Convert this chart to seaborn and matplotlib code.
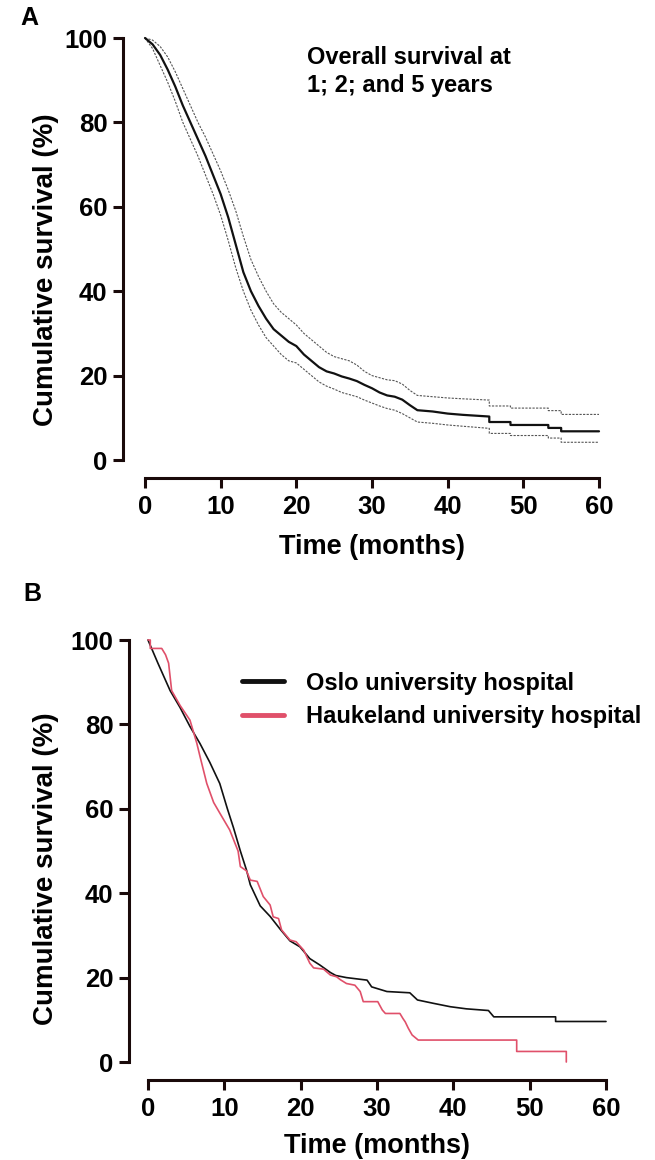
#!/usr/bin/env python3
"""Kaplan-Meier style survival curves, overall (A) and by hospital (B)."""

import pandas as pd
import matplotlib.pyplot as plt
import seaborn as sns

# Panel A: overall survival with 95% CI (months, %)
time_a = [0, 1, 2, 3, 4, 5, 6, 7, 8, 9, 10, 11, 12, 13, 14, 15, 16, 17, 18, 19,
          20, 21, 22, 23, 24, 25, 26, 27, 28, 29, 30, 31, 32, 33, 34, 35, 36,
          38, 40, 42, 45.5, 45.5, 48.3, 48.3, 53.3, 53.3, 55, 55, 60]
surv_a = [100, 98.5, 96, 92.5, 88.5, 84, 80, 76, 72, 67.5, 63, 57.5, 51, 44.5,
          40, 36.5, 33.5, 31, 29.5, 28, 27, 25, 23.5, 22, 21, 20.5, 19.8, 19.3,
          18.7, 17.8, 17, 16, 15.3, 15, 14.3, 13, 11.8, 11.5, 11, 10.7, 10.3,
          9, 9, 8.3, 8.3, 7.6, 7.6, 6.8, 6.8]
upper_a = [100, 99.5, 98, 95.5, 92, 88, 84, 80, 76.5, 72.5, 68.5, 64, 59, 53,
           47.5, 43.5, 40, 37, 35, 33.5, 32, 30, 28.5, 27, 25.5, 24.5, 24, 23.5,
           22.5, 21, 20, 19.5, 19, 18.8, 18, 16.5, 15.3, 15, 14.7, 14.5, 14.2,
           12.8, 12.8, 12.3, 12.3, 11.7, 11.7, 10.8, 10.8]
lower_a = [100, 97.5, 93.5, 89.5, 85, 80, 76, 72, 67.5, 63, 58, 52, 45.5, 40,
           35.5, 32, 29, 27, 25, 23.5, 23, 21.5, 20, 18.5, 17.5, 16.8, 16, 15.5,
           15, 14.2, 13.5, 12.8, 12.2, 11.8, 11, 10, 9, 8.7, 8.3, 8, 7.5, 6.3,
           6.3, 5.8, 5.8, 5.2, 5.2, 4.2, 4.2]

# Panel B: survival by hospital
hospitals = ['Oslo university hospital', 'Haukeland university hospital']
time_oslo = [0, 1.3, 2.9, 4.2, 5.5, 6.8, 8.1, 9.4, 10.4, 11.2, 12.1, 12.9, 13.4,
             14.7, 16, 17.3, 18.6, 19.9, 21.2, 22.5, 23.9, 24.6, 26, 28.7, 29.3,
             31.3, 34.3, 35.3, 37.4, 39.6, 41.7, 44.6, 45.3, 53.4, 53.4, 60]
surv_oslo = [100, 94.5, 88, 84, 79.5, 75.5, 71, 66, 60, 55.5, 50, 45.5, 42, 37,
             34.5, 31.5, 28.7, 27.3, 24.5, 23, 21.2, 20.5, 20, 19.4, 17.8, 16.7,
             16.4, 14.7, 13.9, 13.1, 12.6, 12.2, 10.7, 10.7, 9.6, 9.6]
time_hauk = [0, 0.3, 0.3, 1.8, 2.3, 2.7, 3.1, 4.2, 5.5, 6.4, 6.8, 7.7, 8.6, 9.4,
             10.7, 11.8, 12.1, 12.9, 13.4, 14.3, 15.1, 16, 16.4, 17.1, 17.5,
             18.6, 19.4, 20.4, 21.2, 21.7, 23, 23.9, 24.7, 25.2, 26, 27.1, 27.8,
             28.2, 30.1, 30.7, 31.1, 33, 33.4, 33.7, 34.1, 34.6, 35.4, 48.3,
             48.3, 54.8, 54.8]
surv_hauk = [100, 100, 98, 98, 96.5, 94.5, 88, 84.5, 81, 75.5, 72.5, 66, 61.5,
             59, 55, 50, 46.3, 45.3, 43.1, 42.8, 39.2, 37.2, 34.4, 34, 31.3,
             28.9, 28.5, 26.5, 23.4, 22.3, 22, 20.6, 20.2, 19.5, 18.6, 18.2,
             16.7, 14.3, 14.3, 12.3, 11.5, 11.5, 10.3, 9.5, 8, 6.4, 5.2, 5.2,
             2.5, 2.5, 0]

x_ticks = [0, 10, 20, 30, 40, 50, 60]
y_ticks = [0, 20, 40, 60, 80, 100]

INK = '#1a0a0a'
RED = '#E0506A'


def style_axes(ax, left_off, bottom_off, xlabelpad, ylabel_xy):
    ax.set_xlim(0, 60)
    ax.set_ylim(0, 100)
    ax.set_xticks(x_ticks)
    ax.set_yticks(y_ticks)
    ax.set_xlabel('Time (months)', fontsize=19.5, labelpad=xlabelpad)
    ax.set_ylabel('Cumulative survival (%)', fontsize=20)
    ax.yaxis.set_label_coords(*ylabel_xy)
    ax.tick_params(axis='both', length=7, width=2.2, color=INK, labelsize=18.5,
                   labelcolor='black')
    ax.tick_params(axis='x', pad=5)
    ax.tick_params(axis='y', pad=4)
    for side in ('left', 'bottom'):
        ax.spines[side].set_linewidth(2.2)
        ax.spines[side].set_color(INK)
    sns.despine(ax=ax, offset={'left': left_off, 'bottom': bottom_off}, trim=True)


def main():
    sns.set_theme(style='ticks')
    plt.rcParams['font.family'] = ['Liberation Sans', 'DejaVu Sans']
    plt.rcParams['font.weight'] = 'bold'
    plt.rcParams['axes.labelweight'] = 'bold'
    plt.rcParams['text.color'] = 'black'
    plt.rcParams['axes.labelcolor'] = 'black'

    fig = plt.figure(figsize=(6.55, 11.6), dpi=100)
    ax_a = fig.add_axes([145 / 655, 700 / 1160, 454 / 655, 422 / 1160])
    ax_b = fig.add_axes([148 / 655, 98 / 1160, 458 / 655, 422 / 1160])

    # Panel A
    df_a = pd.DataFrame({'time': time_a, 'surv': surv_a, 'upper': upper_a, 'lower': lower_a})
    for col in ('upper', 'lower'):
        sns.lineplot(data=df_a, x='time', y=col, ax=ax_a, estimator=None, sort=False,
                     color='#555555', linewidth=0.8, linestyle=(0, (2.0, 1.2)), clip_on=False)
    sns.lineplot(data=df_a, x='time', y='surv', ax=ax_a, estimator=None, sort=False,
                 color='#111111', linewidth=1.6, clip_on=False)
    ax_a.text(21.4, 98, 'Overall survival at\n1; 2; and 5 years', fontsize=17,
              va='top', ha='left', linespacing=1.25)
    style_axes(ax_a, 16, 13, 11, (-0.19, 0.45))

    # Panel B
    df_b = pd.concat([
        pd.DataFrame({'time': time_oslo, 'surv': surv_oslo, 'hospital': hospitals[0]}),
        pd.DataFrame({'time': time_hauk, 'surv': surv_hauk, 'hospital': hospitals[1]}),
    ], ignore_index=True)
    sns.lineplot(data=df_b, x='time', y='surv', hue='hospital', ax=ax_b, estimator=None,
                 sort=False, palette={hospitals[0]: '#111111', hospitals[1]: RED},
                 linewidth=1.2, clip_on=False)
    leg = ax_b.legend(loc='upper left', bbox_to_anchor=(0.205, 0.925), frameon=False,
                      fontsize=17, handlelength=1.8, handletextpad=0.9,
                      labelspacing=0.45, borderpad=0, borderaxespad=0)
    for line in leg.get_lines():
        line.set_linewidth(3.5)
    style_axes(ax_b, 14, 13, 9, (-0.195, 0.457))

    fig.text(20 / 655, 1 - 6 / 1160, 'A', fontsize=18, va='top')
    fig.text(23 / 655, 1 - 582 / 1160, 'B', fontsize=18, va='top')

    fig.savefig('out.png', dpi=100)
    plt.close(fig)


if __name__ == '__main__':
    main()
